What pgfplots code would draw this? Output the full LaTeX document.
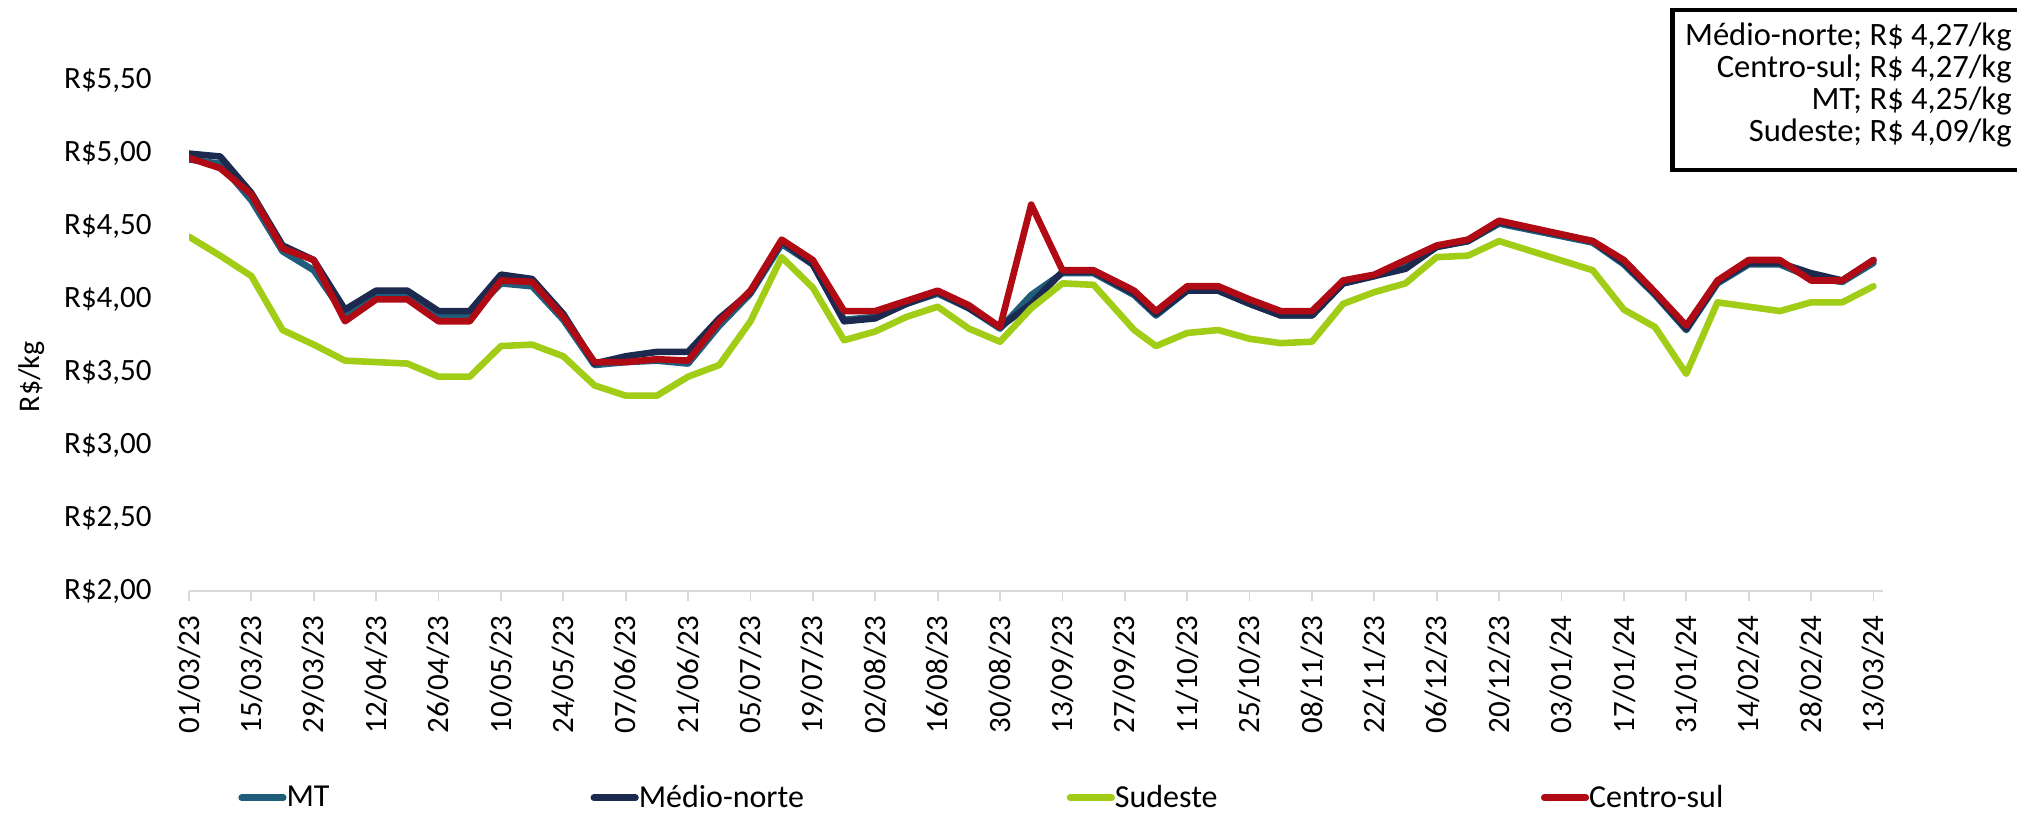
\documentclass[border=0pt]{standalone}
\usepackage{pgfplots}
\usepackage{pgfplotstable}
\pgfplotsset{compat=1.18}
\usepackage{fontspec}
\setmainfont{Carlito}
\definecolor{cMT}{RGB}{31,93,122}
\definecolor{cMN}{RGB}{27,42,78}
\definecolor{cSE}{RGB}{162,205,22}
\definecolor{cCS}{RGB}{176,10,20}
\definecolor{axgray}{RGB}{217,217,217}

\pgfplotstableread{
x MT MN SE CS
0 4.96 5.00 4.43 4.97
1 4.93 4.98 4.30 4.90
2 4.68 4.73 4.16 4.72
3 4.33 4.37 3.79 4.35
4 4.20 4.27 3.69 4.27
5 3.89 3.93 3.58 3.85
6 4.03 4.06 3.57 4.00
7 4.03 4.06 3.56 4.00
8 3.89 3.92 3.47 3.85
9 3.89 3.92 3.47 3.85
10 4.11 4.17 3.68 4.13
11 4.09 4.14 3.69 4.12
12 3.86 3.90 3.61 3.88
13 3.55 3.56 3.41 3.57
14 3.57 3.61 3.34 3.57
15 3.58 3.64 3.34 3.59
16 3.56 3.64 3.47 3.58
17 3.82 3.87 3.55 3.85
18 4.04 4.05 3.85 4.06
19 4.38 4.40 4.29 4.41
20 4.24 4.24 4.08 4.27
21 3.86 3.85 3.72 3.92
22 3.88 3.87 3.78 3.92
23 3.97 3.97 3.88 3.99
24 4.04 4.05 3.95 4.06
25 3.94 3.94 3.80 3.96
26 3.80 3.81 3.71 3.81
27 4.03 3.97 3.94 4.65
28 4.18 4.19 4.11 4.20
29 4.18 4.19 4.10 4.20
30.3 4.03 4.04 3.79 4.06
31 3.89 3.90 3.68 3.92
32 4.06 4.06 3.77 4.09
33 4.06 4.06 3.79 4.09
34 3.97 3.97 3.73 4.00
35 3.89 3.89 3.70 3.92
36 3.89 3.89 3.71 3.92
37 4.11 4.11 3.97 4.13
38 4.16 4.16 4.05 4.17
39 4.25 4.21 4.11 4.27
40 4.36 4.36 4.29 4.37
41 4.40 4.40 4.30 4.41
42 4.52 4.53 4.40 4.54
45 4.39 4.40 4.20 4.40
46 4.24 4.25 3.93 4.27
47 4.03 4.04 3.81 4.05
48 3.79 3.80 3.49 3.82
49 4.11 4.12 3.98 4.13
50 4.24 4.25 3.95 4.27
51 4.24 4.25 3.92 4.27
52 4.15 4.18 3.98 4.13
53 4.12 4.13 3.98 4.13
54 4.25 4.27 4.09 4.27
}\data

\begin{document}
\begin{tikzpicture}
\path[use as bounding box] (0,0) rectangle (1008.5pt,408pt);
\begin{axis}[
  at={(94.5pt,112.5pt)}, anchor=south west,
  width=846.9pt, height=255.15pt, scale only axis,
  xmin=0, xmax=54.3, ymin=2, ymax=5.5,
  axis line style={draw=none},
  xtick pos=bottom, ytick pos=left,
  tick align=outside, major tick length=5pt,
  xtick style={draw=axgray, line width=0.9pt},
  ytick style={draw=none},
  xtick={0,2,...,54},
  xticklabels={01/03/23,15/03/23,29/03/23,12/04/23,26/04/23,10/05/23,24/05/23,07/06/23,21/06/23,05/07/23,19/07/23,02/08/23,16/08/23,30/08/23,13/09/23,27/09/23,11/10/23,25/10/23,08/11/23,22/11/23,06/12/23,20/12/23,03/01/24,17/01/24,31/01/24,14/02/24,28/02/24,13/03/24},
  xticklabel style={yshift=-7pt, rotate=90, anchor=east, inner sep=0pt, font=\fontsize{15.5}{18}\selectfont},
  ytick={2,2.5,3,3.5,4,4.5,5,5.5},
  yticklabels={{R\$2,00},{R\$2,50},{R\$3,00},{R\$3,50},{R\$4,00},{R\$4,50},{R\$5,00},{R\$5,50}},
  yticklabel style={anchor=east, inner sep=0pt, xshift=-13.5pt, font=\fontsize{15.5}{18}\selectfont},
  ylabel={R\$/kg},
  ylabel style={at={(rel axis cs:-0.0927,0.42)}, anchor=center, font=\fontsize{15}{18}\selectfont},
  legend columns=4,
  legend image code/.code={\draw[#1, line width=3.3pt, line cap=round] (1.6pt,0pt) -- (22.4pt,0pt);},
  legend style={at={(axis description cs:0.0289,-0.405)}, anchor=west, draw=none, fill=none,
    inner sep=0pt, column sep=0pt, nodes={inner sep=0pt, font=\fontsize{16}{18}\selectfont}},
  legend cell align=left,
]
\draw[color=axgray, line width=0.9pt] (rel axis cs:0,0) -- (rel axis cs:1,0);
\addplot[cMT, line width=3.3pt, line join=round, line cap=round] table[x=x,y=MT]{\data};
\addlegendentry{\makebox[152pt][l]{MT}}
\addplot[cMN, line width=3.3pt, line join=round, line cap=round] table[x=x,y=MN]{\data};
\addlegendentry{\makebox[214pt][l]{Médio-norte}}
\addplot[cSE, line width=3.3pt, line join=round, line cap=round] table[x=x,y=SE]{\data};
\addlegendentry{\makebox[213pt][l]{Sudeste}}
\addplot[cCS, line width=3.3pt, line join=round, line cap=round] table[x=x,y=CS]{\data};
\addlegendentry{\makebox[60pt][l]{Centro-sul}}
\end{axis}
\draw[line width=2.4pt, fill=white] (836.35pt,403pt) rectangle (1030pt,323pt);
\node[anchor=east, align=right, inner sep=0pt, font=\fontsize{16.3}{15.9}\selectfont] at (1006pt,365.5pt)
  {Médio-norte; R\$ 4,27/kg\\Centro-sul; R\$ 4,27/kg\\MT; R\$ 4,25/kg\\Sudeste; R\$ 4,09/kg};
\end{tikzpicture}
\end{document}
